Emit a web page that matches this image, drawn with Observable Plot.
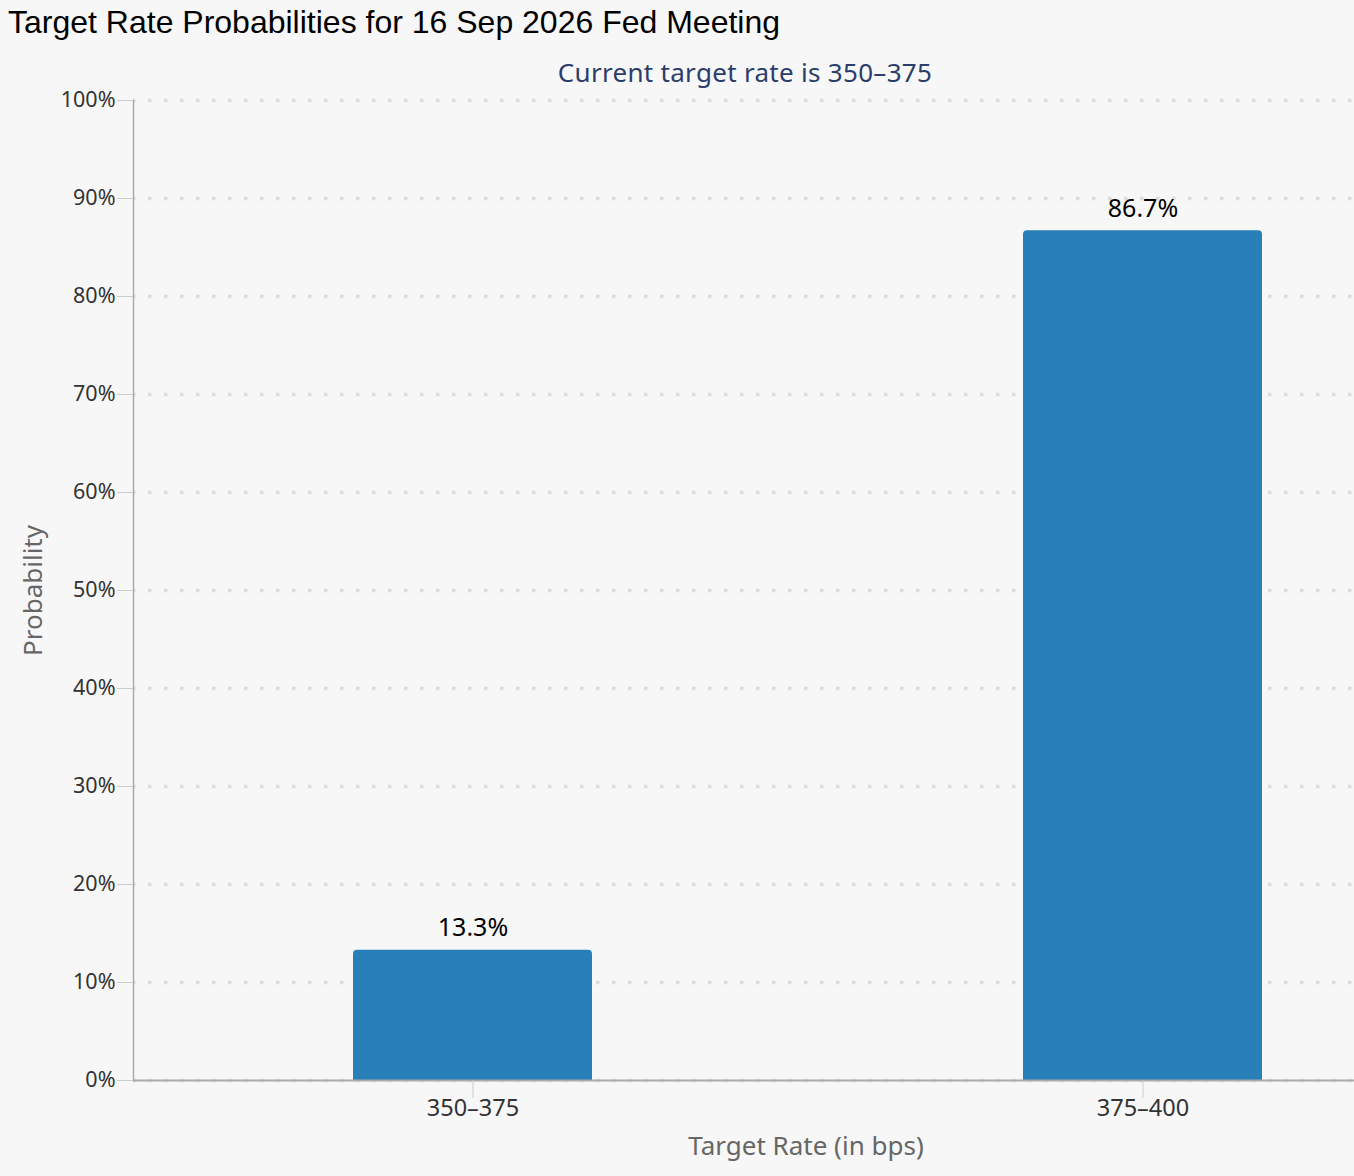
<!DOCTYPE html>
<html>
<head>
<meta charset="utf-8">
<script src="https://cdn.jsdelivr.net/npm/d3@7"></script>
<script src="https://cdn.jsdelivr.net/npm/@observablehq/plot@0.6"></script>
<style>
  html, body { margin: 0; padding: 0; background: #f7f7f7; overflow: hidden; }
  #wrap { position: relative; width: 1354px; height: 1176px; }
  #title { position: absolute; left: 8px; top: 4px; font-family: "Liberation Sans", Arial, sans-serif; font-size: 32px; color: #000; white-space: nowrap; }
  #subtitle { position: absolute; left: 0; top: 54px; width: 1490px; text-align: center; font-family: "Noto Sans", sans-serif; font-size: 26px; letter-spacing: 0.3px; color: #2b3d6a; white-space: nowrap; }
  #chart { position: absolute; left: 0; top: 0; }
</style>
</head>
<body>
<div id="wrap">
  <div id="chart"></div>
  <div id="title">Target Rate Probabilities for 16 Sep 2026 Fed Meeting</div>
  <div id="subtitle">Current target rate is 350–375</div>
</div>
<script>
const categories = ["350–375", "375–400"];
const probabilities = [0.133, 0.867];
const valueLabels = ["13.3%", "86.7%"];
const yTicks = [0, 0.1, 0.2, 0.3, 0.4, 0.5, 0.6, 0.7, 0.8, 0.9, 1.0];
const xAxisTitle = "Target Rate (in bps)";
const yAxisTitle = "Probability";

const data = categories.map((c, i) => ({category: c, value: probabilities[i], label: valueLabels[i]}));

const font = "'Noto Sans', sans-serif";

const chart = Plot.plot({
  width: 1354,
  height: 1176,
  marginLeft: 133,
  marginRight: 0,
  marginTop: 100,
  marginBottom: 96,
  style: {background: "#f7f7f7", fontFamily: font, overflow: "visible"},
  x: {domain: categories, range: [133, 1482], paddingInner: 0.643, paddingOuter: 0.328, align: 0.5, label: null},
  y: {domain: [0, 1], label: null},
  marks: [
    Plot.gridY(yTicks, {stroke: "#dcdcdc", strokeOpacity: 1, strokeWidth: 3.5, strokeDasharray: "3.5,12.5", strokeDashoffset: 1}),
    Plot.barY(data, {x: "category", y: "value", fill: "#2980b9", ry1: 4, rx1y1: 4, rx2y1: 4}),
    Plot.ruleY([0], {stroke: "#aaa", strokeWidth: 2}),
    Plot.frame({anchor: "left", stroke: "#aaa", strokeWidth: 1.5}),
    Plot.axisY(yTicks, {tickFormat: d3.format(".0%"), tickSize: 16, tickPadding: 2, stroke: "#ccc", fill: "#333", fontSize: 21.5, label: null}),
    Plot.axisX({tickSize: 18, tickPadding: 1, stroke: "#ccc", fill: "#333", fontSize: 23.5, label: null}),
    Plot.text(data, {x: "category", y: "value", text: "label", dy: -14, lineAnchor: "bottom", fontSize: 25, fill: "#000"}),
    Plot.text([xAxisTitle], {frameAnchor: "bottom", dx: 62, dy: 66, fontSize: 26, fill: "#666", lineAnchor: "middle", textAnchor: "middle"}),
    Plot.text([yAxisTitle], {frameAnchor: "left", dx: -100, rotate: -90, fontSize: 26, fill: "#666", lineAnchor: "middle", textAnchor: "middle"})
  ]
});
document.getElementById("chart").appendChild(chart);
</script>
</body>
</html>
